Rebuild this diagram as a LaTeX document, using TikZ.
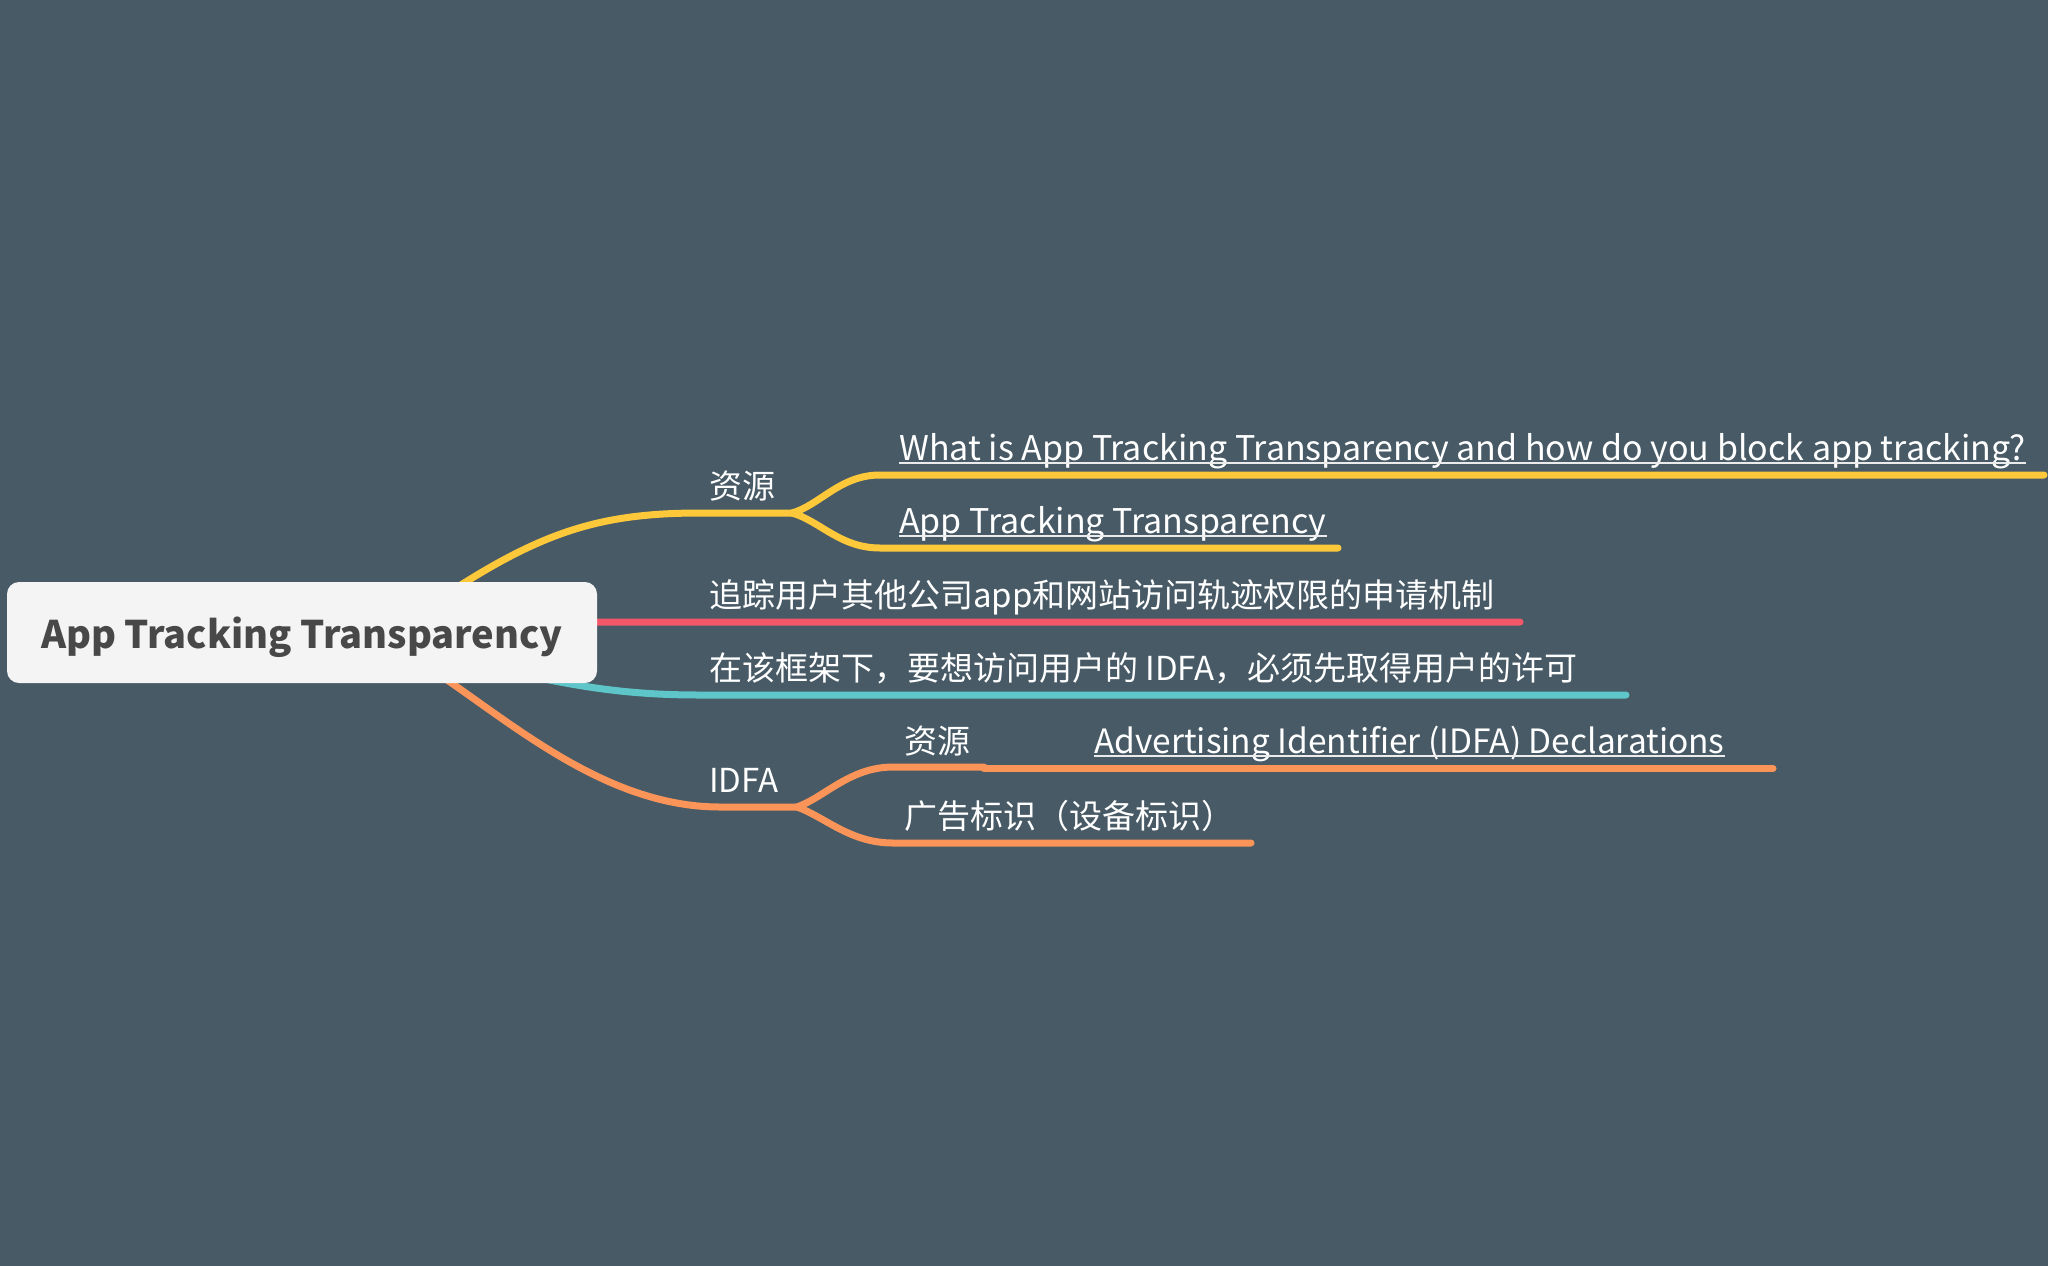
\documentclass[tikz,border=0pt]{standalone}
\usepackage{fontspec}
\setmainfont{Noto Sans CJK SC}
\usepackage{xcolor}
\usepackage{tikz}

\definecolor{bgcol}{RGB}{71,90,102}
\definecolor{ylw}{RGB}{253,201,59}
\definecolor{rd}{RGB}{244,88,104}
\definecolor{tl}{RGB}{94,197,200}
\definecolor{org}{RGB}{250,148,88}
\definecolor{rootfill}{RGB}{244,244,244}
\definecolor{roottext}{RGB}{72,72,72}

\pgfdeclarelayer{back}
\pgfdeclarelayer{lines}
\pgfsetlayers{back,lines,main}

\begin{document}
\begin{tikzpicture}[x=1pt,y=-1pt,
  every node/.style={inner sep=0pt, text=white, font=\fontsize{33}{40}\selectfont},
  topic/.style={anchor=base west},
  link/.style={topic, font=\fontsize{34}{40}\selectfont},
  branch/.style={line width=7pt, line cap=round},
  ul/.style={draw=white!92!black, line width=1.6pt}]
% Background
\begin{pgfonlayer}{back}
\fill[bgcol] (0,0) rectangle (2048,1266);
\end{pgfonlayer}
\useasboundingbox (0,0) rectangle (2048,1266);
% Root
\node[fill=rootfill, rounded corners=12pt, minimum width=590pt, minimum height=101pt, text=roottext, font=\fontsize{38}{46}\selectfont\bfseries] (root) at (302,632.5) {\raisebox{-5pt}[\height][\depth]{App Tracking Transparency}};
% Topics
\node[topic] (res) at (709,498) {资源};
\node[link] (what) at (899,460) {What is App Tracking Transparency and how do you block app tracking?};
\node[link] (att) at (899,533) {App Tracking Transparency};
\node[topic] (track) at (709,607) {追踪用户其他公司app和网站访问轨迹权限的申请机制};
\node[topic] (frame) at (709,680) {在该框架下，要想访问用户的 IDFA，必须先取得用户的许可};
\node[topic] (idfa) at (709,792) {IDFA};
\node[topic] (res2) at (904,753) {资源};
\node[link, font=\fontsize{33.5}{40}\selectfont] (adv) at (1094,753) {Advertising Identifier (IDFA) Declarations};
\node[topic] (ad) at (904,828) {广告标识（设备标识）};
% Points
\coordinate (hub) at (380,640);
\coordinate (resA) at (700,513);
\coordinate (resB) at (792,513);
\coordinate (whatA) at (880,475);
\coordinate (whatB) at (2044,475);
\coordinate (attA) at (880,548);
\coordinate (attB) at (1338,548);
\coordinate (trackA) at (700,622);
\coordinate (trackB) at (1520,622);
\coordinate (frameA) at (700,695);
\coordinate (frameB) at (1626,695);
\coordinate (idfaA) at (720,807);
\coordinate (idfaB) at (797,807);
\coordinate (res2A) at (893,767);
\coordinate (res2B) at (984,767);
\coordinate (advA) at (984,768.5);
\coordinate (advB) at (1773,768.5);
\coordinate (adA) at (893,843);
\coordinate (adB) at (1251,843);
% Branches
\begin{pgfonlayer}{lines}
\draw[branch, ylw] (hub) .. controls (520,540) and (580,513) .. (resA) -- (resB);
\draw[branch, ylw] (resB) .. controls (820,505) and (840,475) .. (whatA) -- (whatB);
\draw[branch, ylw] (resB) .. controls (820,521) and (840,548) .. (attA) -- (attB);
\draw[branch, rd] (hub) .. controls (500,622) .. (trackA) -- (trackB);
\draw[branch, tl] (hub) .. controls (540,680) and (600,695) .. (frameA) -- (frameB);
\draw[branch, org] (hub) .. controls (470,680) and (580,807) .. (idfaA) -- (idfaB);
\draw[branch, org] (idfaB) .. controls (825,797) and (850,767) .. (res2A) -- (res2B);
\draw[branch, org] (advA) -- (advB);
\draw[branch, org] (idfaB) .. controls (825,817) and (850,843) .. (adA) -- (adB);
\end{pgfonlayer}
% Links
\draw[ul] ([yshift=-3pt]what.base west) -- ([yshift=-3pt]what.base east);
\draw[ul] ([yshift=-3pt]att.base west) -- ([yshift=-3pt]att.base east);
\draw[ul] ([yshift=-3pt]adv.base west) -- ([yshift=-3pt]adv.base east);
\end{tikzpicture}
\end{document}
